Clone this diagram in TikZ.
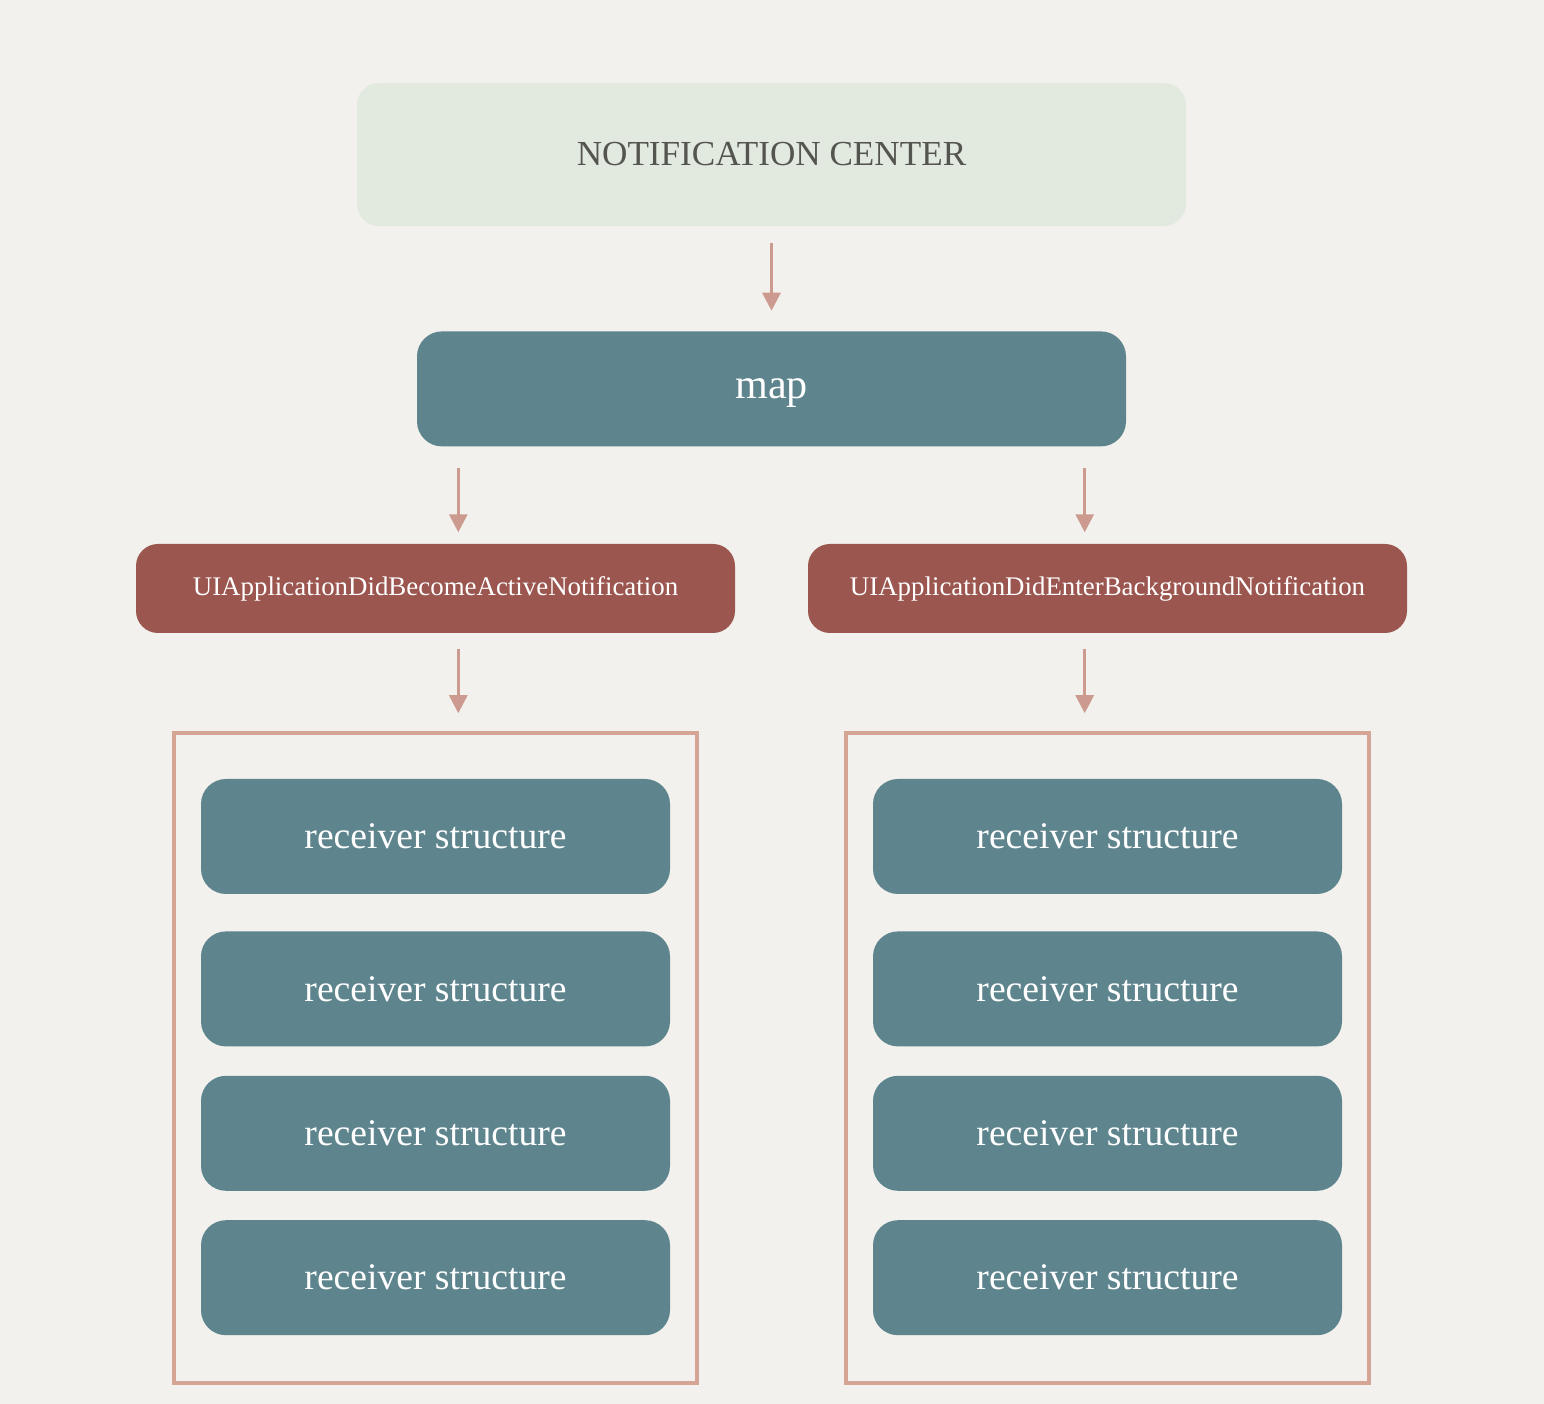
\documentclass[tikz,border=0pt]{standalone}
\usepackage{fontspec}
\setmainfont{Liberation Serif}
\usepackage{xcolor}
\usepackage{tikz}
\usetikzlibrary{positioning, arrows.meta, calc}

\definecolor{paper}{HTML}{F2F1ED}
\definecolor{sage}{HTML}{E2E9DF}
\definecolor{teal}{HTML}{5E858D}
\definecolor{brick}{HTML}{9B5650}
\definecolor{rose}{HTML}{CC9A8E}
\definecolor{frameclr}{HTML}{D4A595}
\definecolor{ink}{HTML}{55554F}

\begin{document}
\begin{tikzpicture}[
    center/.style={rectangle, rounded corners=0.22cm, fill=sage, text=ink, minimum width=8.29cm, minimum height=1.43cm, inner sep=0pt, font=\fontsize{10}{12}\selectfont},
    mapbox/.style={rectangle, rounded corners=0.25cm, fill=teal, text=white, minimum width=7.09cm, minimum height=1.15cm, inner sep=0pt, text depth=0pt, font=\fontsize{12}{14}\selectfont},
    notif/.style={rectangle, rounded corners=0.22cm, fill=brick, text=white, minimum width=5.99cm, minimum height=0.89cm, inner sep=0pt, font=\fontsize{7.65}{9}\selectfont},
    receiver/.style={rectangle, rounded corners=0.25cm, fill=teal, text=white, minimum width=4.69cm, minimum height=1.15cm, inner sep=0pt, font=\fontsize{10.7}{12}\selectfont},
    group/.style={rectangle, draw=frameclr, line width=1pt, minimum width=5.23cm, minimum height=6.5cm, inner sep=0pt},
    arrow/.style={-{Triangle[length=0.18cm, width=0.18cm]}, draw=rose, fill=rose, line width=0.85pt}
]
\fill[paper] (0,0) rectangle (15.44,-14.04);
\useasboundingbox (0,0) rectangle (15.44,-14.04);

\node[center] (nc) at (7.715,-1.545) {NOTIFICATION CENTER};
\node[mapbox, below=1.04cm of nc] (map) {map};

\node[notif] (active) at (4.355,-5.885) {UIApplicationDidBecomeActiveNotification};
\node[notif] (background) at (11.075,-5.885) {UIApplicationDidEnterBackgroundNotification};

\node[group] (leftgroup) at (4.355,-10.58) {};
\node[group] (rightgroup) at (11.075,-10.58) {};

\node[receiver] (l1) at (4.355,-8.365) {receiver structure};
\node[receiver, below=0.36cm of l1] (l2) {receiver structure};
\node[receiver, below=0.28cm of l2] (l3) {receiver structure};
\node[receiver, below=0.28cm of l3] (l4) {receiver structure};

\node[receiver] (r1) at (11.075,-8.365) {receiver structure};
\node[receiver, below=0.36cm of r1] (r2) {receiver structure};
\node[receiver, below=0.28cm of r2] (r3) {receiver structure};
\node[receiver, below=0.28cm of r3] (r4) {receiver structure};

% arrow columns
\coordinate (colL) at ($(map.south west)+(0.42,0)$);
\coordinate (colR) at ($(map.south east)+(-0.42,0)$);

\draw[arrow, shorten <=0.16cm, shorten >=0.2cm] (nc.south) -- (map.north);
\draw[arrow, shorten <=0.21cm, shorten >=0.11cm] (colL) -- (active.north -| colL);
\draw[arrow, shorten <=0.21cm, shorten >=0.11cm] (colR) -- (background.north -| colR);
\draw[arrow, shorten <=0.15cm, shorten >=0.18cm] (active.south -| colL) -- (leftgroup.north -| colL);
\draw[arrow, shorten <=0.15cm, shorten >=0.18cm] (background.south -| colR) -- (rightgroup.north -| colR);
\end{tikzpicture}
\end{document}
